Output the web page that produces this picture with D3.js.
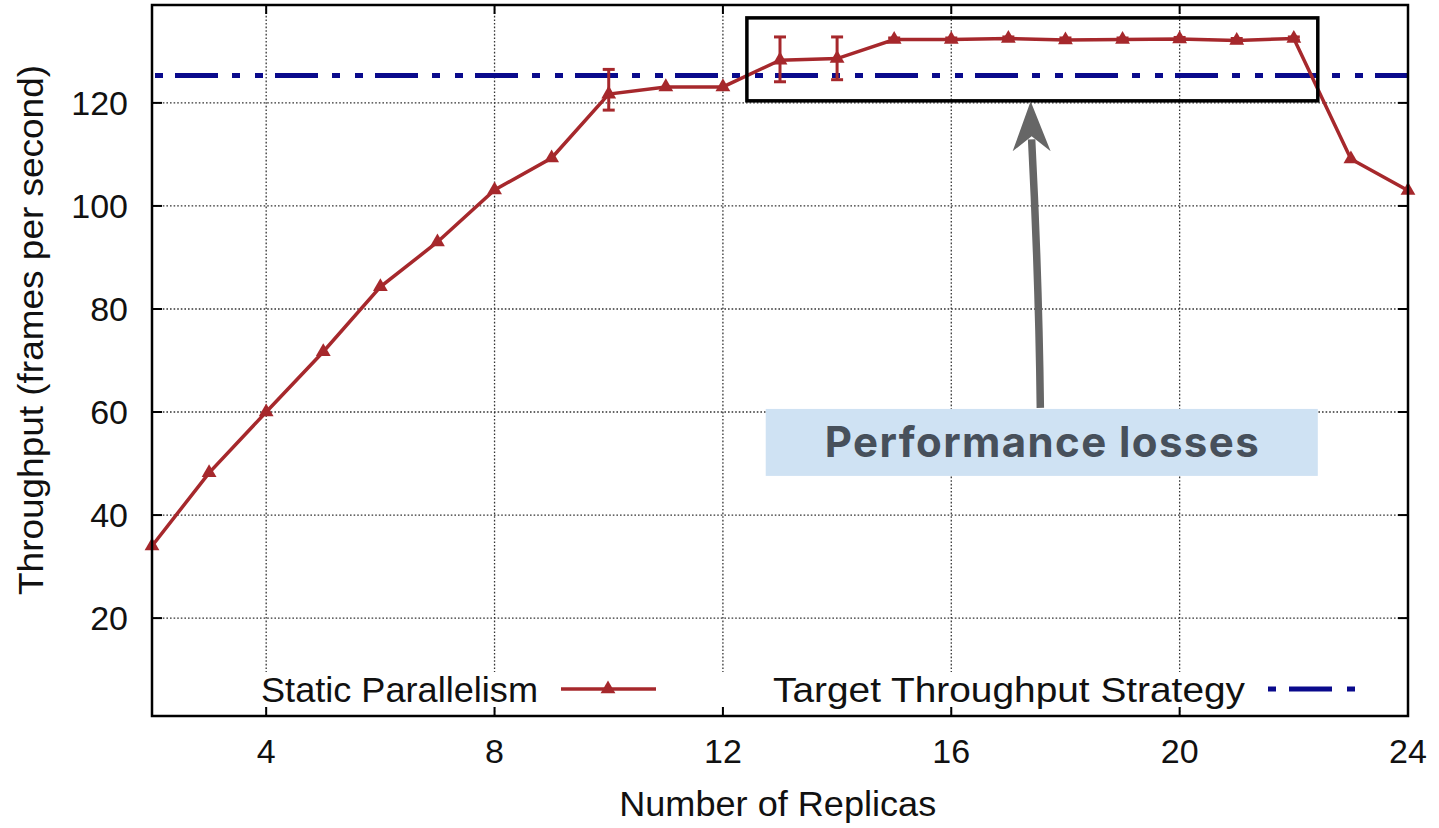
<!DOCTYPE html>
<html>
<head>
<meta charset="utf-8">
<script src="https://cdn.jsdelivr.net/npm/d3@7"></script>
<style>
  html, body { margin: 0; padding: 0; background: #fff; }
  svg { display: block; }
</style>
</head>
<body>
<div id="chart"></div>
<script>

// Data
var replicas = [2, 3, 4, 5, 6, 7, 8, 9, 10, 11, 12, 13, 14, 15, 16, 17, 18, 19, 20, 21, 22, 23, 24];
var throughput = [34, 48.2, 60, 71.7, 84.3, 93, 103.1, 109.3, 121.7, 123.1, 123.1, 128.3, 128.6, 132.3, 132.3, 132.5, 132.2, 132.3, 132.4, 132.1, 132.5, 109.1, 103];
var errLow = [34, 48.2, 60, 71.7, 84.3, 93, 103.1, 109.3, 118.6, 123.1, 123.1, 124.1, 124.5, 132.0, 132.0, 132.2, 131.8, 132.0, 132.1, 131.7, 132.2, 109.1, 103];
var errHigh = [34, 48.2, 60, 71.7, 84.3, 93, 103.1, 109.3, 126.5, 123.1, 123.1, 132.8, 132.8, 132.6, 132.6, 132.8, 132.6, 132.6, 132.7, 132.5, 132.8, 109.1, 103];
var targetThroughput = 125.3;

var xTicks = [4, 8, 12, 16, 20, 24];
var yTicks = [20, 40, 60, 80, 100, 120];

var seriesNames = ['Static Parallelism', 'Target Throughput Strategy'];
var xTitle = 'Number of Replicas';
var yTitle = 'Throughput (frames per second)';
var noteText = 'Performance losses';

// Annotation anchors (data units)
var highlightBox = { x0: 12.42, x1: 22.42, y0: 120.4, y1: 136.5 };
var noteBox = { x0: 12.75, x1: 22.42, y0: 47.6, y1: 60.6 };
var arrowTip = { x: 17.39, y: 120.3 };
var arrowBase = { x: 17.56, y: 60.8 };

var attrs = {
  svgWidth: 1439,
  svgHeight: 828,
  marginLeft: 152,
  marginTop: 5,
  marginRight: 31,
  marginBottom: 112,
  red: '#a6282c',
  blue: '#0a0a8c',
  font: '"Liberation Sans", Arial, Helvetica, sans-serif'
};

var calc = {};
calc.width = attrs.svgWidth - attrs.marginLeft - attrs.marginRight;
calc.height = attrs.svgHeight - attrs.marginTop - attrs.marginBottom;

var x = d3.scaleLinear().domain([2, 24]).range([0, calc.width]);
var y = d3.scaleLinear().domain([1, 139]).range([calc.height, 0]);

//Add svg
var svg = d3.select('#chart').append('svg')
  .attr('width', attrs.svgWidth)
  .attr('height', attrs.svgHeight)
  .attr('font-family', attrs.font);

svg.append('rect').attr('width', attrs.svgWidth).attr('height', attrs.svgHeight).attr('fill', '#fff');

var chart = svg.append('g')
  .attr('transform', 'translate(' + attrs.marginLeft + ',' + attrs.marginTop + ')');

// grid
var grid = chart.append('g').attr('class', 'grid');
grid.selectAll('.vgrid').data(xTicks.filter(d => d < 24)).enter().append('line')
  .attr('x1', d => x(d)).attr('x2', d => x(d))
  .attr('y1', 0).attr('y2', calc.height)
  .attr('stroke', '#333').attr('stroke-width', 1.3).attr('stroke-dasharray', '1.6,2');
grid.selectAll('.hgrid').data(yTicks).enter().append('line')
  .attr('x1', 0).attr('x2', calc.width)
  .attr('y1', d => y(d)).attr('y2', d => y(d))
  .attr('stroke', '#333').attr('stroke-width', 1.3).attr('stroke-dasharray', '1.6,2');

// opaque key background
chart.append('rect')
  .attr('x', 1).attr('y', calc.height - 44)
  .attr('width', calc.width - 2).attr('height', 35)
  .attr('fill', '#fff');

// target line
chart.append('line')
  .attr('x1', 0).attr('x2', calc.width)
  .attr('y1', y(targetThroughput)).attr('y2', y(targetThroughput))
  .attr('stroke', attrs.blue).attr('stroke-width', 5)
  .attr('stroke-dasharray', '43,14,8,15,8,12')
  .attr('stroke-dashoffset', 77);

// series
var points = replicas.map((r, i) => ({ x: r, y: throughput[i], lo: errLow[i], hi: errHigh[i] }));

chart.append('path')
  .datum(points)
  .attr('fill', 'none')
  .attr('stroke', attrs.red)
  .attr('stroke-width', 3.5)
  .attr('d', d3.line().x(d => x(d.x)).y(d => y(d.y)));

var err = chart.append('g').selectAll('g').data(points.filter(d => d.hi > d.lo)).enter().append('g')
  .attr('stroke', attrs.red).attr('stroke-width', 3);
err.append('line')
  .attr('x1', d => x(d.x)).attr('x2', d => x(d.x))
  .attr('y1', d => y(d.lo)).attr('y2', d => y(d.hi));
err.append('line')
  .attr('x1', d => x(d.x) - 6).attr('x2', d => x(d.x) + 6)
  .attr('y1', d => y(d.lo)).attr('y2', d => y(d.lo));
err.append('line')
  .attr('x1', d => x(d.x) - 6).attr('x2', d => x(d.x) + 6)
  .attr('y1', d => y(d.hi)).attr('y2', d => y(d.hi));

var tri = d3.symbol().type(d3.symbolTriangle).size(95);
chart.append('g').selectAll('path').data(points).enter().append('path')
  .attr('d', tri)
  .attr('transform', d => 'translate(' + x(d.x) + ',' + y(d.y) + ')')
  .attr('fill', attrs.red);

// frame + ticks (inward, mirrored)
var ticks = chart.append('g').attr('stroke', '#000').attr('stroke-width', 2);
ticks.selectAll('.xt').data(xTicks.filter(d => d < 24)).enter().append('line')
  .attr('x1', d => x(d)).attr('x2', d => x(d))
  .attr('y1', calc.height).attr('y2', calc.height - 9);
ticks.selectAll('.xt2').data(xTicks.filter(d => d < 24)).enter().append('line')
  .attr('x1', d => x(d)).attr('x2', d => x(d))
  .attr('y1', 0).attr('y2', 9);
ticks.selectAll('.yt').data(yTicks).enter().append('line')
  .attr('x1', 0).attr('x2', 10)
  .attr('y1', d => y(d)).attr('y2', d => y(d));
ticks.selectAll('.yt2').data(yTicks).enter().append('line')
  .attr('x1', calc.width).attr('x2', calc.width - 10)
  .attr('y1', d => y(d)).attr('y2', d => y(d));

chart.append('rect')
  .attr('width', calc.width).attr('height', calc.height)
  .attr('fill', 'none').attr('stroke', '#000').attr('stroke-width', 2.5);

// tick labels
chart.selectAll('.xl').data(xTicks).enter().append('text')
  .attr('x', d => x(d)).attr('y', calc.height + 47)
  .attr('text-anchor', 'middle').attr('font-size', 34).attr('fill', '#111')
  .text(d => d);
chart.selectAll('.yl').data(yTicks).enter().append('text')
  .attr('x', -24).attr('y', d => y(d) + 12)
  .attr('text-anchor', 'end').attr('font-size', 34).attr('fill', '#111')
  .text(d => d);

// axis titles
svg.append('text')
  .attr('x', attrs.marginLeft + x(12.96)).attr('y', 816)
  .attr('text-anchor', 'middle').attr('font-size', 35).attr('fill', '#111')
  .attr('textLength', 317).attr('lengthAdjust', 'spacingAndGlyphs')
  .text(xTitle);
svg.append('text')
  .attr('transform', 'translate(43,' + 330 + ') rotate(-90)')
  .attr('text-anchor', 'middle').attr('font-size', 35).attr('fill', '#111')
  .attr('textLength', 530).attr('lengthAdjust', 'spacingAndGlyphs')
  .text(yTitle);

// key
var keyY = calc.height - 27;
chart.append('text')
  .attr('x', 386).attr('y', keyY + 13)
  .attr('text-anchor', 'end').attr('font-size', 35).attr('fill', '#111')
  .attr('textLength', 277).attr('lengthAdjust', 'spacingAndGlyphs')
  .text(seriesNames[0]);
chart.append('line')
  .attr('x1', 409).attr('x2', 504).attr('y1', keyY).attr('y2', keyY)
  .attr('stroke', attrs.red).attr('stroke-width', 3.5);
chart.append('path')
  .attr('d', tri)
  .attr('transform', 'translate(456,' + keyY + ')')
  .attr('fill', attrs.red);
chart.append('text')
  .attr('x', 1093).attr('y', keyY + 13)
  .attr('text-anchor', 'end').attr('font-size', 35).attr('fill', '#111')
  .attr('textLength', 472).attr('lengthAdjust', 'spacingAndGlyphs')
  .text(seriesNames[1]);
chart.append('line')
  .attr('x1', 1116).attr('x2', 1204).attr('y1', keyY).attr('y2', keyY)
  .attr('stroke', attrs.blue).attr('stroke-width', 5)
  .attr('stroke-dasharray', '8,13,43,15,8,100');

// highlight box
chart.append('rect')
  .attr('x', x(highlightBox.x0)).attr('y', y(highlightBox.y1))
  .attr('width', x(highlightBox.x1) - x(highlightBox.x0))
  .attr('height', y(highlightBox.y0) - y(highlightBox.y1))
  .attr('fill', 'none').attr('stroke', '#000').attr('stroke-width', 3.5);

// note label
chart.append('rect')
  .attr('x', x(noteBox.x0)).attr('y', y(noteBox.y1))
  .attr('width', x(noteBox.x1) - x(noteBox.x0))
  .attr('height', y(noteBox.y0) - y(noteBox.y1))
  .attr('fill', '#cfe2f3');
chart.append('text')
  .attr('x', (x(noteBox.x0) + x(noteBox.x1)) / 2)
  .attr('y', y(noteBox.y0) - 19)
  .attr('text-anchor', 'middle')
  .attr('font-family', 'Inter, "Open Sans", sans-serif')
  .attr('font-weight', 700).attr('font-size', 42)
  .attr('fill', '#47505b')
  .attr('textLength', 434).attr('lengthAdjust', 'spacing')
  .text(noteText);

// arrow
var tipX = x(arrowTip.x), tipY = y(arrowTip.y);
var baseX = x(arrowBase.x), baseY = y(arrowBase.y);
var headY = tipY + 50;
chart.append('path')
  .attr('d', 'M' + baseX + ',' + baseY +
    ' Q' + (baseX - 1.5) + ',' + ((baseY + headY) / 2) + ' ' + (tipX + 1) + ',' + (headY - 12))
  .attr('fill', 'none').attr('stroke', '#666').attr('stroke-width', 7.5);
chart.append('path')
  .attr('d', 'M' + tipX + ',' + tipY +
    ' L' + (tipX + 20) + ',' + headY +
    ' L' + (tipX + 1) + ',' + (headY - 15) +
    ' L' + (tipX - 18) + ',' + headY + 'Z')
  .attr('fill', '#666');

</script>
</body>
</html>
